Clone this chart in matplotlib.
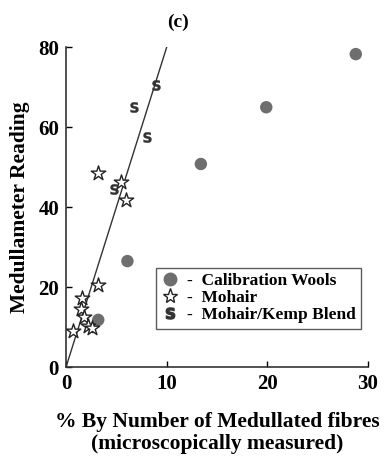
import matplotlib
matplotlib.use("Agg")
import matplotlib.pyplot as plt
from matplotlib.lines import Line2D

# Calibration wools
calib_x = [3.2, 6.1, 13.4, 19.9, 28.8]
calib_y = [11.8, 26.5, 50.8, 65.0, 78.3]

# Mohair samples
mohair_x = [0.7, 1.6, 1.5, 1.8, 2.2, 2.6, 3.2, 3.2, 5.5, 6.0]
mohair_y = [9.0, 17.3, 14.5, 12.5, 10.2, 9.7, 20.5, 48.5, 46.2, 41.8]

# Mohair/Kemp blends
blend_x = [4.8, 6.8, 8.0, 8.9]
blend_y = [44.5, 65.0, 57.5, 70.5]

# Regression line
line_x = [0, 10]
line_y = [0, 80]

plt.rcParams['font.family'] = ['Liberation Serif', 'DejaVu Serif']
plt.rcParams['font.weight'] = 'bold'

fig = plt.figure(figsize=(3.84, 4.62), dpi=100)
ax = fig.add_axes([0.172, 0.2056, 0.786, 0.692])

ax.plot(line_x, line_y, color='#333333', lw=1.0, zorder=2)
ax.scatter(calib_x, calib_y, s=80, color='#6e6e6e', edgecolors='none', zorder=3)
ax.scatter(mohair_x, mohair_y, s=120, marker='*', facecolors='white',
           edgecolors='#222222', linewidths=1.0, zorder=4)
ax.scatter(blend_x, blend_y, s=55, marker=r'$\mathsf{S}$', color='#333333',
           linewidths=0.3, zorder=4)

ax.set_xlim(0, 30)
ax.set_ylim(0, 80)
ax.set_xticks([0, 10, 20, 30])
ax.set_yticks([0, 20, 40, 60, 80])
ax.tick_params(direction='in', length=4, width=1, labelsize=15, pad=5)
for lab in ax.get_xticklabels() + ax.get_yticklabels():
    lab.set_fontweight('bold')
ax.spines['top'].set_visible(False)
ax.spines['right'].set_visible(False)
ax.spines['left'].set_color('#333333')
ax.spines['bottom'].set_color('#333333')
ax.spines['left'].set_linewidth(1.2)
ax.spines['bottom'].set_linewidth(1.2)

ax.set_ylabel('Medullameter Reading', fontsize=15.5, fontweight='bold', labelpad=6)
ax.set_xlabel('% By Number of Medullated fibres\n(microscopically measured)',
              fontsize=15.5, fontweight='bold', labelpad=13, linespacing=1.1)
ax.set_title('(c)', fontsize=14, fontweight='bold', pad=15, x=0.37)

handles = [
    Line2D([], [], marker='o', ls='none', color='#6e6e6e', markersize=9),
    Line2D([], [], marker='*', ls='none', markerfacecolor='white',
           markeredgecolor='#222222', markersize=11),
    Line2D([], [], marker=r'$\mathsf{S}$', ls='none', color='#333333', markersize=8),
]
labels = ['-  Calibration Wools', '-  Mohair', '-  Mohair/Kemp Blend']
leg = ax.legend(handles, labels, loc='upper left', bbox_to_anchor=(0.298, 0.31),
                frameon=True, fancybox=False, edgecolor='#333333',
                prop={'family': 'Liberation Serif', 'weight': 'bold', 'size': 12.5},
                handlelength=1.0, handletextpad=0.5, borderpad=0.3,
                labelspacing=0.05, borderaxespad=0)
leg.get_frame().set_linewidth(1.0)

fig.savefig('out.png', dpi=100)
